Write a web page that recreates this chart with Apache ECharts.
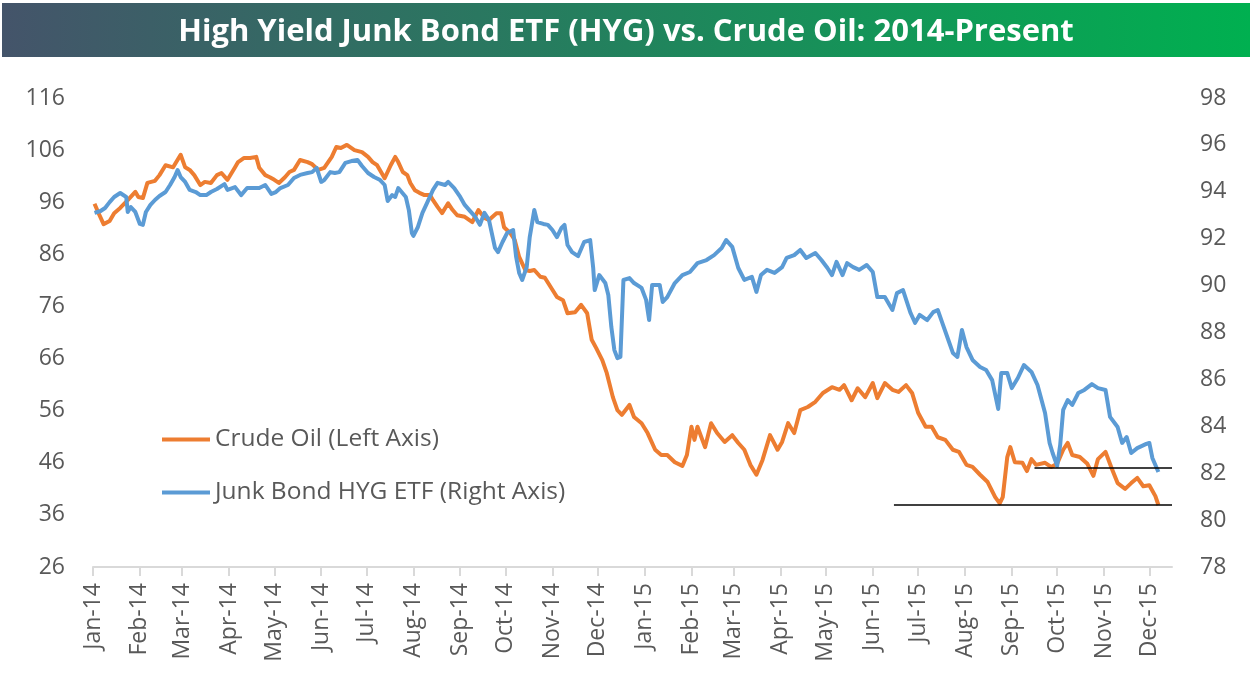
<!DOCTYPE html>
<html><head><meta charset="utf-8">
<script src="https://cdn.jsdelivr.net/npm/echarts@6/dist/echarts.min.js"></script>
<style>html,body{margin:0;padding:0;background:#fff}#c{width:1252px;height:684px}</style>
</head><body><div id="c"></div>
<script>
const titleText = 'High Yield Junk Bond ETF (HYG) vs. Crude Oil: 2014-Present';
const oilName = 'Crude Oil (Left Axis)';
const hygName = 'Junk Bond HYG ETF (Right Axis)';
const axisStart = '2014-01-01';
const axisEnd = '2015-12-16';
const monthNames = ['Jan','Feb','Mar','Apr','May','Jun','Jul','Aug','Sep','Oct','Nov','Dec'];
const leftAxis = {min: 26, max: 116, interval: 10};
const rightAxis = {min: 78, max: 98, interval: 2};

const oilDates = ['2014-01-02','2014-01-05','2014-01-08','2014-01-12','2014-01-15','2014-01-19','2014-01-24','2014-01-29','2014-01-31','2014-02-03','2014-02-06','2014-02-11','2014-02-14','2014-02-18','2014-02-23','2014-02-28','2014-03-03','2014-03-06','2014-03-09','2014-03-13','2014-03-16','2014-03-20','2014-03-24','2014-03-27','2014-03-31','2014-04-05','2014-04-07','2014-04-11','2014-04-15','2014-04-19','2014-04-21','2014-04-25','2014-04-28','2014-05-01','2014-05-04','2014-05-08','2014-05-11','2014-05-14','2014-05-18','2014-05-23','2014-05-26','2014-05-30','2014-06-03','2014-06-08','2014-06-11','2014-06-14','2014-06-18','2014-06-23','2014-06-28','2014-07-02','2014-07-05','2014-07-08','2014-07-11','2014-07-13','2014-07-17','2014-07-20','2014-07-22','2014-07-25','2014-07-28','2014-07-30','2014-08-02','2014-08-05','2014-08-08','2014-08-12','2014-08-14','2014-08-17','2014-08-20','2014-08-24','2014-08-27','2014-08-30','2014-09-04','2014-09-09','2014-09-13','2014-09-17','2014-09-20','2014-09-25','2014-09-28','2014-09-30','2014-10-04','2014-10-07','2014-10-10','2014-10-14','2014-10-17','2014-10-20','2014-10-24','2014-10-27','2014-11-01','2014-11-04','2014-11-08','2014-11-11','2014-11-16','2014-11-20','2014-11-24','2014-11-27','2014-11-30','2014-12-04','2014-12-07','2014-12-11','2014-12-14','2014-12-17','2014-12-22','2014-12-25','2014-12-30','2015-01-03','2015-01-08','2015-01-12','2015-01-16','2015-01-21','2015-01-26','2015-01-29','2015-02-01','2015-02-03','2015-02-05','2015-02-10','2015-02-14','2015-02-18','2015-02-23','2015-02-28','2015-03-04','2015-03-08','2015-03-12','2015-03-16','2015-03-20','2015-03-25','2015-03-30','2015-04-02','2015-04-06','2015-04-10','2015-04-14','2015-04-19','2015-04-24','2015-04-29','2015-05-05','2015-05-10','2015-05-13','2015-05-18','2015-05-22','2015-05-27','2015-06-01','2015-06-04','2015-06-09','2015-06-14','2015-06-18','2015-06-23','2015-06-27','2015-07-01','2015-07-06','2015-07-10','2015-07-14','2015-07-19','2015-07-24','2015-07-28','2015-08-02','2015-08-06','2015-08-11','2015-08-16','2015-08-21','2015-08-24','2015-08-26','2015-08-29','2015-08-31','2015-09-03','2015-09-08','2015-09-11','2015-09-14','2015-09-17','2015-09-23','2015-09-27','2015-10-01','2015-10-05','2015-10-08','2015-10-11','2015-10-16','2015-10-21','2015-10-25','2015-10-28','2015-11-02','2015-11-06','2015-11-10','2015-11-15','2015-11-19','2015-11-23','2015-11-27','2015-12-01','2015-12-05','2015-12-07'];
const oilValues = [95.7,93.7,91.8,92.4,93.9,94.9,96.4,98.0,97.0,96.8,99.7,100.1,101.2,103.1,102.7,105.1,102.7,102.2,101.2,99.3,99.9,99.7,101.2,101.6,100.3,102.7,103.7,104.5,104.5,104.7,102.6,101.2,100.8,100.3,99.7,100.8,101.8,102.2,104.1,103.7,103.3,102.2,102.6,104.7,106.6,106.4,107.0,106.0,105.6,104.7,103.7,103.1,101.6,100.6,103.1,104.7,103.7,101.8,101.2,99.7,98.3,97.8,97.4,97.4,96.4,95.1,93.9,95.8,94.5,93.5,93.2,92.2,94.5,93.0,92.6,93.9,93.9,91.2,90.1,88.8,85.5,83.0,82.8,83.0,81.7,81.5,79.2,77.8,77.2,74.7,74.9,76.3,74.7,69.6,68.0,65.7,63.2,58.6,56.1,55.2,57.1,54.8,53.6,51.7,48.5,47.5,47.5,46.1,45.4,47.5,52.9,50.4,52.9,49.0,53.6,51.7,50.0,51.3,49.8,48.5,45.6,43.7,46.5,51.3,48.5,50.0,53.6,51.7,56.1,56.7,57.7,59.4,60.5,60.0,60.9,58.0,60.3,58.6,61.3,58.4,61.3,60.0,59.6,60.9,59.4,55.6,52.9,52.9,50.9,50.4,48.5,48.1,45.6,45.2,43.7,42.3,39.4,38.2,39.4,47.1,49.0,46.1,46.0,44.4,46.7,45.6,46.0,45.2,45.8,48.5,49.8,47.5,47.1,45.8,43.5,46.7,48.1,45.0,42.1,41.0,42.1,43.1,41.5,41.7,39.6,37.9];

const hygDates = ['2014-01-02','2014-01-06','2014-01-09','2014-01-12','2014-01-15','2014-01-19','2014-01-23','2014-01-24','2014-01-26','2014-01-29','2014-02-01','2014-02-03','2014-02-05','2014-02-08','2014-02-11','2014-02-14','2014-02-18','2014-02-21','2014-02-24','2014-02-26','2014-02-28','2014-03-03','2014-03-06','2014-03-10','2014-03-13','2014-03-17','2014-03-20','2014-03-24','2014-03-29','2014-03-31','2014-04-05','2014-04-09','2014-04-13','2014-04-18','2014-04-21','2014-04-25','2014-04-29','2014-05-02','2014-05-05','2014-05-10','2014-05-14','2014-05-18','2014-05-23','2014-05-26','2014-05-29','2014-06-01','2014-06-03','2014-06-07','2014-06-10','2014-06-13','2014-06-17','2014-06-21','2014-06-25','2014-06-28','2014-07-02','2014-07-06','2014-07-10','2014-07-13','2014-07-15','2014-07-18','2014-07-20','2014-07-22','2014-07-27','2014-07-29','2014-07-31','2014-08-01','2014-08-04','2014-08-07','2014-08-10','2014-08-14','2014-08-17','2014-08-22','2014-08-24','2014-08-28','2014-09-01','2014-09-04','2014-09-07','2014-09-11','2014-09-14','2014-09-17','2014-09-20','2014-09-24','2014-09-26','2014-09-29','2014-10-02','2014-10-06','2014-10-08','2014-10-10','2014-10-12','2014-10-15','2014-10-17','2014-10-20','2014-10-22','2014-10-26','2014-10-29','2014-11-01','2014-11-04','2014-11-07','2014-11-09','2014-11-11','2014-11-14','2014-11-18','2014-11-22','2014-11-26','2014-11-28','2014-11-29','2014-12-02','2014-12-06','2014-12-08','2014-12-10','2014-12-12','2014-12-14','2014-12-16','2014-12-18','2014-12-22','2014-12-25','2014-12-30','2015-01-02','2015-01-04','2015-01-06','2015-01-11','2015-01-13','2015-01-16','2015-01-21','2015-01-26','2015-01-31','2015-02-05','2015-02-11','2015-02-16','2015-02-21','2015-02-24','2015-02-28','2015-03-04','2015-03-08','2015-03-13','2015-03-16','2015-03-19','2015-03-23','2015-03-28','2015-04-02','2015-04-05','2015-04-10','2015-04-14','2015-04-18','2015-04-24','2015-04-28','2015-05-02','2015-05-05','2015-05-08','2015-05-12','2015-05-15','2015-05-19','2015-05-23','2015-05-28','2015-06-01','2015-06-04','2015-06-09','2015-06-14','2015-06-17','2015-06-21','2015-06-26','2015-06-29','2015-07-02','2015-07-07','2015-07-11','2015-07-14','2015-07-17','2015-07-21','2015-07-24','2015-07-27','2015-07-30','2015-08-02','2015-08-06','2015-08-11','2015-08-15','2015-08-19','2015-08-23','2015-08-25','2015-08-29','2015-09-01','2015-09-05','2015-09-09','2015-09-14','2015-09-18','2015-09-23','2015-09-26','2015-09-28','2015-10-01','2015-10-03','2015-10-05','2015-10-08','2015-10-11','2015-10-15','2015-10-19','2015-10-24','2015-10-28','2015-11-02','2015-11-05','2015-11-10','2015-11-13','2015-11-16','2015-11-19','2015-11-23','2015-11-29','2015-12-01','2015-12-03','2015-12-07'];
const hygValues = [93.10,93.18,93.31,93.56,93.78,93.95,93.78,93.14,93.35,93.14,92.63,92.59,93.14,93.44,93.65,93.82,93.99,94.29,94.63,94.93,94.63,94.42,94.08,93.99,93.86,93.86,93.99,94.12,94.33,94.08,94.20,93.86,94.16,94.16,94.16,94.29,93.91,93.99,94.16,94.29,94.59,94.72,94.80,94.84,95.02,94.42,94.50,94.84,94.80,94.84,95.23,95.31,95.36,95.10,94.80,94.63,94.50,94.29,93.61,93.86,93.78,94.16,93.78,93.22,92.24,92.12,92.50,93.10,93.52,94.08,94.38,94.29,94.42,94.16,93.78,93.44,93.22,92.93,92.59,93.10,92.80,91.61,91.43,91.86,92.24,92.37,91.22,90.54,90.24,90.79,92.07,93.22,92.71,92.63,92.59,92.37,92.07,92.46,92.59,91.73,91.43,91.26,91.86,91.94,90.75,89.81,90.45,90.11,89.60,88.23,87.25,86.91,86.96,90.24,90.32,90.11,89.90,89.39,88.53,90.03,90.03,89.30,89.51,90.11,90.45,90.58,90.96,91.09,91.30,91.60,91.94,91.65,90.75,90.24,90.37,89.73,90.45,90.67,90.54,90.79,91.18,91.30,91.52,91.18,91.39,91.09,90.75,90.45,91.01,90.45,90.96,90.79,90.67,90.88,90.58,89.51,89.51,88.96,89.68,89.81,88.83,88.41,88.75,88.53,88.87,88.96,88.41,87.68,87.13,86.96,88.11,87.38,86.83,86.53,86.40,85.97,84.74,86.27,86.27,85.63,86.06,86.61,86.32,85.76,84.57,83.29,82.86,82.31,83.20,84.70,85.12,84.91,85.42,85.55,85.80,85.63,85.55,84.40,83.97,83.29,83.54,82.86,83.07,83.25,83.29,82.65,82.05];

const oilSupport = {from: '2015-06-15', to: '2015-12-16', value: 37.9};
const hygSupport = {from: '2015-09-16', to: '2015-12-16', value: 82.22};

// ---- build ----
function toUTC(s){ const p = s.split('-'); return Date.UTC(+p[0], +p[1]-1, +p[2]); }
const t0 = toUTC(axisStart);
function toIdx(s){ return Math.round((toUTC(s) - t0) / 86400000); }
const categories = [];
for (let t = t0; t <= toUTC(axisEnd); t += 86400000) {
  const d = new Date(t);
  categories.push(d.getUTCFullYear() + '-' + String(d.getUTCMonth()+1).padStart(2,'0') + '-' + String(d.getUTCDate()).padStart(2,'0'));
}
const isMonthStart = (i, v) => v.slice(8) === '01';
const oilData = oilDates.map((d, i) => [toIdx(d), oilValues[i]]);
const hygData = hygDates.map((d, i) => [toIdx(d), hygValues[i]]);

const labelFont = "'Open Sans', 'Segoe UI', sans-serif";
const chart = echarts.init(document.getElementById('c'), null, {renderer: 'canvas'});
chart.setOption({
  animation: false,
  backgroundColor: '#fff',
  graphic: [{
    type: 'rect', left: 2, top: 3, z: 0,
    shape: {width: 1248, height: 54},
    style: {fill: new echarts.graphic.LinearGradient(0, 0, 1, 0, [
      {offset: 0, color: '#44546A'}, {offset: 1, color: '#00B050'}])}
  }],
  title: {
    text: titleText, left: 'center', top: 12,
    textStyle: {color: '#fff', fontSize: 31, fontWeight: 'bold',
      fontFamily: "'Open Sans', sans-serif"}
  },
  legend: {
    orient: 'vertical', left: 157, top: 421,
    icon: 'rect', itemWidth: 48, itemHeight: 4, itemGap: 26,
    textStyle: {color: '#595959', fontSize: 24.5, fontFamily: labelFont, lineHeight: 27},
    data: [oilName, hygName]
  },
  grid: {left: 93, right: 80, top: 98, bottom: 117, containLabel: false},
  xAxis: {
    type: 'category', data: categories, boundaryGap: false,
    axisLine: {lineStyle: {color: '#D9D9D9', width: 2}},
    axisTick: {show: true, interval: isMonthStart, length: 9, lineStyle: {color: '#D9D9D9', width: 2}},
    axisLabel: {
      interval: isMonthStart, rotate: 90, margin: 16, color: '#595959', fontSize: 23, fontFamily: labelFont,
      formatter: v => monthNames[+v.slice(5,7)-1] + '-' + v.slice(2,4)
    },
    splitLine: {show: false}
  },
  yAxis: [{
    type: 'value', position: 'left', min: leftAxis.min, max: leftAxis.max, interval: leftAxis.interval,
    axisLine: {show: false}, axisTick: {show: false}, splitLine: {show: false},
    axisLabel: {color: '#595959', fontSize: 23, fontFamily: labelFont, margin: 28}
  }, {
    type: 'value', position: 'right', min: rightAxis.min, max: rightAxis.max, interval: rightAxis.interval,
    axisLine: {show: false}, axisTick: {show: false}, splitLine: {show: false},
    axisLabel: {color: '#595959', fontSize: 23, fontFamily: labelFont, margin: 28}
  }],
  series: [{
    name: oilName, type: 'line', xAxisIndex: 0, yAxisIndex: 0, data: oilData,
    showSymbol: false, symbol: 'none', color: '#ED7D31',
    lineStyle: {width: 4, color: '#ED7D31', join: 'round'},
    markLine: {
      silent: true, symbol: ['none', 'none'], label: {show: false},
      lineStyle: {color: '#000', width: 1.6, type: 'solid'},
      data: [[{coord: [toIdx(oilSupport.from), oilSupport.value]}, {coord: [toIdx(oilSupport.to), oilSupport.value]}]]
    }
  }, {
    name: hygName, type: 'line', xAxisIndex: 0, yAxisIndex: 1, data: hygData,
    showSymbol: false, symbol: 'none', color: '#5B9BD5',
    lineStyle: {width: 4, color: '#5B9BD5', join: 'round'},
    markLine: {
      silent: true, symbol: ['none', 'none'], label: {show: false},
      lineStyle: {color: '#000', width: 1.6, type: 'solid'},
      data: [[{coord: [toIdx(hygSupport.from), hygSupport.value]}, {coord: [toIdx(hygSupport.to), hygSupport.value]}]]
    }
  }]
});
</script></body></html>
